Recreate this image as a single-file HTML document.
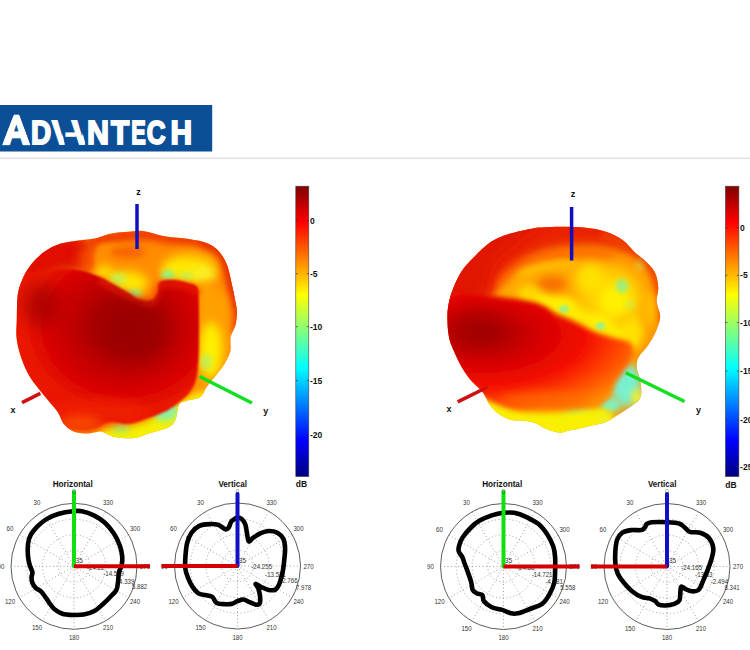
<!DOCTYPE html><html><head><meta charset="utf-8"><style>html,body{margin:0;padding:0;background:#fff;width:750px;height:650px;overflow:hidden}svg{display:block}</style></head><body>
<svg width="750" height="650" viewBox="0 0 750 650">
<rect width="750" height="650" fill="#fff"/>
<rect x="0" y="105" width="212.2" height="46.5" fill="#0b4f97"/>
<rect x="0" y="157.5" width="750" height="1.6" fill="#e4e4e4"/>
<defs><clipPath id="clipV"><polygon points="49,118 59.2,118 65.2,147 57,147"/></clipPath><clipPath id="clipA1"><polygon points="1.8,145.5 14.4,113.5 18.6,113.5 30.6,145.5"/></clipPath><clipPath id="clipA"><polygon points="69.3,118 78.6,118 86.2,147 76.8,147"/></clipPath></defs>
<g clip-path="url(#clipA1)"><text transform="translate(2.50 143.67) scale(0.3802 0.4092)" font-size="100" font-weight="bold" fill="#fff" stroke="#fff" stroke-width="5.5" stroke-linejoin="miter" font-family="'Liberation Sans', Arial, sans-serif">A</text></g>
<text transform="translate(30.99 143.89) scale(0.2799 0.3324)" font-size="100" font-weight="bold" fill="#fff" stroke="#fff" stroke-width="5.5" stroke-linejoin="miter" font-family="'Liberation Sans', Arial, sans-serif">D</text>
<g clip-path="url(#clipV)"><text transform="translate(52.03 143.89) scale(0.3051 0.3324)" font-size="100" font-weight="bold" fill="#fff" stroke="#fff" stroke-width="5.5" stroke-linejoin="miter" font-family="'Liberation Sans', Arial, sans-serif">V</text></g>
<g clip-path="url(#clipA)"><text transform="translate(71.73 143.89) scale(0.3051 0.3324)" font-size="100" font-weight="bold" fill="#fff" stroke="#fff" stroke-width="5.5" stroke-linejoin="miter" font-family="'Liberation Sans', Arial, sans-serif">V</text></g>
<text transform="translate(64.91 140.56) scale(0.3398 0.2356)" font-size="100" font-weight="bold" fill="#fff" stroke="#fff" stroke-width="5.5" stroke-linejoin="miter" font-family="'Liberation Sans', Arial, sans-serif">-</text>
<text transform="translate(86.90 143.89) scale(0.3048 0.3324)" font-size="100" font-weight="bold" fill="#fff" stroke="#fff" stroke-width="5.5" stroke-linejoin="miter" font-family="'Liberation Sans', Arial, sans-serif">N</text>
<text transform="translate(110.89 143.89) scale(0.2981 0.3324)" font-size="100" font-weight="bold" fill="#fff" stroke="#fff" stroke-width="5.5" stroke-linejoin="miter" font-family="'Liberation Sans', Arial, sans-serif">T</text>
<text transform="translate(131.14 143.89) scale(0.2175 0.3324)" font-size="100" font-weight="bold" fill="#fff" stroke="#fff" stroke-width="5.5" stroke-linejoin="miter" font-family="'Liberation Sans', Arial, sans-serif">E</text>
<text transform="translate(146.65 143.76) scale(0.2609 0.3303)" font-size="100" font-weight="bold" fill="#fff" stroke="#fff" stroke-width="5.5" stroke-linejoin="miter" font-family="'Liberation Sans', Arial, sans-serif">C</text>
<text transform="translate(170.42 143.89) scale(0.2986 0.3324)" font-size="100" font-weight="bold" fill="#fff" stroke="#fff" stroke-width="5.5" stroke-linejoin="miter" font-family="'Liberation Sans', Arial, sans-serif">H</text>
<g>
<circle cx="74.0" cy="566.3" r="63.0" fill="none" stroke="#333" stroke-width="0.8"/>
<circle cx="74.0" cy="566.3" r="15.8" fill="none" stroke="#888" stroke-width="0.8" stroke-dasharray="1 2.5"/>
<circle cx="74.0" cy="566.3" r="31.5" fill="none" stroke="#888" stroke-width="0.8" stroke-dasharray="1 2.5"/>
<circle cx="74.0" cy="566.3" r="47.2" fill="none" stroke="#888" stroke-width="0.8" stroke-dasharray="1 2.5"/>
<line x1="11.0" y1="566.3" x2="137.0" y2="566.3" stroke="#888" stroke-width="0.8" stroke-dasharray="1 2.5"/>
<line x1="19.4" y1="534.8" x2="128.6" y2="597.8" stroke="#888" stroke-width="0.8" stroke-dasharray="1 2.5"/>
<line x1="42.5" y1="511.7" x2="105.5" y2="620.9" stroke="#888" stroke-width="0.8" stroke-dasharray="1 2.5"/>
<line x1="74.0" y1="503.3" x2="74.0" y2="629.3" stroke="#888" stroke-width="0.8" stroke-dasharray="1 2.5"/>
<line x1="105.5" y1="511.7" x2="42.5" y2="620.9" stroke="#888" stroke-width="0.8" stroke-dasharray="1 2.5"/>
<line x1="128.6" y1="534.8" x2="19.4" y2="597.8" stroke="#888" stroke-width="0.8" stroke-dasharray="1 2.5"/>
<text x="37.0" y="502.3" font-size="7.6" text-anchor="middle" fill="#333" font-family="'Liberation Sans', Arial, sans-serif" dominant-baseline="central" textLength="6.8" lengthAdjust="spacingAndGlyphs">30</text>
<text x="108.0" y="502.3" font-size="7.6" text-anchor="middle" fill="#333" font-family="'Liberation Sans', Arial, sans-serif" dominant-baseline="central" textLength="10.2" lengthAdjust="spacingAndGlyphs">330</text>
<text x="10.0" y="528.8" font-size="7.6" text-anchor="middle" fill="#333" font-family="'Liberation Sans', Arial, sans-serif" dominant-baseline="central" textLength="6.8" lengthAdjust="spacingAndGlyphs">60</text>
<text x="135.0" y="528.8" font-size="7.6" text-anchor="middle" fill="#333" font-family="'Liberation Sans', Arial, sans-serif" dominant-baseline="central" textLength="10.2" lengthAdjust="spacingAndGlyphs">300</text>
<text x="1.0" y="566.3" font-size="7.6" text-anchor="middle" fill="#333" font-family="'Liberation Sans', Arial, sans-serif" dominant-baseline="central" textLength="6.8" lengthAdjust="spacingAndGlyphs">90</text>
<text x="145.0" y="566.3" font-size="7.6" text-anchor="middle" fill="#333" font-family="'Liberation Sans', Arial, sans-serif" dominant-baseline="central" textLength="10.2" lengthAdjust="spacingAndGlyphs">270</text>
<text x="10.0" y="601.3" font-size="7.6" text-anchor="middle" fill="#333" font-family="'Liberation Sans', Arial, sans-serif" dominant-baseline="central" textLength="10.2" lengthAdjust="spacingAndGlyphs">120</text>
<text x="135.0" y="601.3" font-size="7.6" text-anchor="middle" fill="#333" font-family="'Liberation Sans', Arial, sans-serif" dominant-baseline="central" textLength="10.2" lengthAdjust="spacingAndGlyphs">240</text>
<text x="37.0" y="627.8" font-size="7.6" text-anchor="middle" fill="#333" font-family="'Liberation Sans', Arial, sans-serif" dominant-baseline="central" textLength="10.2" lengthAdjust="spacingAndGlyphs">150</text>
<text x="108.0" y="627.8" font-size="7.6" text-anchor="middle" fill="#333" font-family="'Liberation Sans', Arial, sans-serif" dominant-baseline="central" textLength="10.2" lengthAdjust="spacingAndGlyphs">210</text>
<text x="74.0" y="637.3" font-size="7.6" text-anchor="middle" fill="#333" font-family="'Liberation Sans', Arial, sans-serif" dominant-baseline="central" textLength="10.2" lengthAdjust="spacingAndGlyphs">180</text>
<text x="72.7" y="484.5" font-size="8.2" font-weight="bold" text-anchor="middle" fill="#111" font-family="'Liberation Sans', Arial, sans-serif" dominant-baseline="central" textLength="40.0" lengthAdjust="spacingAndGlyphs">Horizontal</text>
<text x="73.7" y="560.4" font-size="7.2" fill="#333" font-family="'Liberation Sans', Arial, sans-serif" dominant-baseline="central" textLength="9.1" lengthAdjust="spacingAndGlyphs">-35</text>
<text x="87.0" y="567.0" font-size="7.2" fill="#333" font-family="'Liberation Sans', Arial, sans-serif" dominant-baseline="central" textLength="17.4" lengthAdjust="spacingAndGlyphs">-24.22</text>
<text x="103.2" y="573.5" font-size="7.2" fill="#333" font-family="'Liberation Sans', Arial, sans-serif" dominant-baseline="central" textLength="20.8" lengthAdjust="spacingAndGlyphs">-14.579</text>
<text x="117.0" y="581.2" font-size="7.2" fill="#333" font-family="'Liberation Sans', Arial, sans-serif" dominant-baseline="central" textLength="17.4" lengthAdjust="spacingAndGlyphs">-4.339</text>
<text x="132.0" y="586.8" font-size="7.2" fill="#333" font-family="'Liberation Sans', Arial, sans-serif" dominant-baseline="central" textLength="15.1" lengthAdjust="spacingAndGlyphs">5.882</text>
<path d="M73.0,511.2C76.8,510.8 78.4,510.5 81.9,511.2C85.5,511.9 90.5,513.7 94.3,515.6C98.1,517.5 101.7,519.8 104.9,522.7C108.1,525.7 111.2,529.5 113.7,533.3C116.2,537.1 118.5,541.9 119.9,545.7C121.3,549.5 121.9,553.1 122.2,556.3C122.5,559.5 122.2,562.5 121.7,565.1C121.2,567.8 119.6,569.6 119.0,572.2C118.4,574.9 118.5,578.0 118.1,581.0C117.7,584.0 117.7,587.2 116.4,589.9C115.1,592.6 112.4,594.6 110.2,597.0C108.0,599.4 105.8,601.6 103.1,604.0C100.4,606.4 97.5,609.3 94.3,611.1C91.1,612.9 87.2,614.0 83.7,614.6C80.2,615.2 76.5,615.1 73.0,615.0C69.5,614.9 65.5,614.8 62.4,613.8C59.3,612.8 56.5,610.9 54.5,609.3C52.5,607.7 51.4,605.8 50.1,604.0C48.8,602.2 48.0,600.8 46.5,598.7C45.0,596.6 43.0,593.4 41.2,591.6C39.4,589.8 37.4,589.6 35.9,588.1C34.4,586.6 33.1,584.6 32.4,582.8C31.7,581.0 31.5,579.3 31.5,577.5C31.5,575.7 32.7,574.3 32.4,572.2C32.1,570.1 30.4,567.8 29.7,565.1C29.0,562.5 28.3,559.8 28.0,556.3C27.7,552.8 27.6,547.4 28.0,543.9C28.4,540.4 29.0,538.0 30.6,535.1C32.2,532.2 35.1,528.9 37.7,526.2C40.4,523.5 43.0,521.2 46.5,519.1C50.0,517.0 54.5,515.1 58.9,513.8C63.3,512.5 69.2,511.6 73.0,511.2Z" fill="none" stroke="#000" stroke-width="4.6" stroke-linejoin="round"/>
<line x1="74.0" y1="566.3" x2="74.0" y2="492" stroke="#10e010" stroke-width="4" stroke-linecap="round"/><text x="74.0" y="491" font-size="7" text-anchor="middle" fill="#000" opacity="0.45" font-family="Liberation Sans, sans-serif" dominant-baseline="central">0</text>
<line x1="74.0" y1="566.3" x2="150.0" y2="566.3" stroke="#d40000" stroke-width="4"/>
</g>
<g>
<circle cx="237.5" cy="566.0" r="63.0" fill="none" stroke="#333" stroke-width="0.8"/>
<circle cx="237.5" cy="566.0" r="15.8" fill="none" stroke="#888" stroke-width="0.8" stroke-dasharray="1 2.5"/>
<circle cx="237.5" cy="566.0" r="31.5" fill="none" stroke="#888" stroke-width="0.8" stroke-dasharray="1 2.5"/>
<circle cx="237.5" cy="566.0" r="47.2" fill="none" stroke="#888" stroke-width="0.8" stroke-dasharray="1 2.5"/>
<line x1="174.5" y1="566.0" x2="300.5" y2="566.0" stroke="#888" stroke-width="0.8" stroke-dasharray="1 2.5"/>
<line x1="182.9" y1="534.5" x2="292.1" y2="597.5" stroke="#888" stroke-width="0.8" stroke-dasharray="1 2.5"/>
<line x1="206.0" y1="511.4" x2="269.0" y2="620.6" stroke="#888" stroke-width="0.8" stroke-dasharray="1 2.5"/>
<line x1="237.5" y1="503.0" x2="237.5" y2="629.0" stroke="#888" stroke-width="0.8" stroke-dasharray="1 2.5"/>
<line x1="269.0" y1="511.4" x2="206.0" y2="620.6" stroke="#888" stroke-width="0.8" stroke-dasharray="1 2.5"/>
<line x1="292.1" y1="534.5" x2="182.9" y2="597.5" stroke="#888" stroke-width="0.8" stroke-dasharray="1 2.5"/>
<text x="200.5" y="502.0" font-size="7.6" text-anchor="middle" fill="#333" font-family="'Liberation Sans', Arial, sans-serif" dominant-baseline="central" textLength="6.8" lengthAdjust="spacingAndGlyphs">30</text>
<text x="271.5" y="502.0" font-size="7.6" text-anchor="middle" fill="#333" font-family="'Liberation Sans', Arial, sans-serif" dominant-baseline="central" textLength="10.2" lengthAdjust="spacingAndGlyphs">330</text>
<text x="173.5" y="528.5" font-size="7.6" text-anchor="middle" fill="#333" font-family="'Liberation Sans', Arial, sans-serif" dominant-baseline="central" textLength="6.8" lengthAdjust="spacingAndGlyphs">60</text>
<text x="298.5" y="528.5" font-size="7.6" text-anchor="middle" fill="#333" font-family="'Liberation Sans', Arial, sans-serif" dominant-baseline="central" textLength="10.2" lengthAdjust="spacingAndGlyphs">300</text>
<text x="164.5" y="566.0" font-size="7.6" text-anchor="middle" fill="#333" font-family="'Liberation Sans', Arial, sans-serif" dominant-baseline="central" textLength="6.8" lengthAdjust="spacingAndGlyphs">90</text>
<text x="308.5" y="566.0" font-size="7.6" text-anchor="middle" fill="#333" font-family="'Liberation Sans', Arial, sans-serif" dominant-baseline="central" textLength="10.2" lengthAdjust="spacingAndGlyphs">270</text>
<text x="173.5" y="601.0" font-size="7.6" text-anchor="middle" fill="#333" font-family="'Liberation Sans', Arial, sans-serif" dominant-baseline="central" textLength="10.2" lengthAdjust="spacingAndGlyphs">120</text>
<text x="298.5" y="601.0" font-size="7.6" text-anchor="middle" fill="#333" font-family="'Liberation Sans', Arial, sans-serif" dominant-baseline="central" textLength="10.2" lengthAdjust="spacingAndGlyphs">240</text>
<text x="200.5" y="627.5" font-size="7.6" text-anchor="middle" fill="#333" font-family="'Liberation Sans', Arial, sans-serif" dominant-baseline="central" textLength="10.2" lengthAdjust="spacingAndGlyphs">150</text>
<text x="271.5" y="627.5" font-size="7.6" text-anchor="middle" fill="#333" font-family="'Liberation Sans', Arial, sans-serif" dominant-baseline="central" textLength="10.2" lengthAdjust="spacingAndGlyphs">210</text>
<text x="237.5" y="637.0" font-size="7.6" text-anchor="middle" fill="#333" font-family="'Liberation Sans', Arial, sans-serif" dominant-baseline="central" textLength="10.2" lengthAdjust="spacingAndGlyphs">180</text>
<text x="232.7" y="484.5" font-size="8.2" font-weight="bold" text-anchor="middle" fill="#111" font-family="'Liberation Sans', Arial, sans-serif" dominant-baseline="central" textLength="28.5" lengthAdjust="spacingAndGlyphs">Vertical</text>
<text x="236.8" y="560.5" font-size="7.2" fill="#333" font-family="'Liberation Sans', Arial, sans-serif" dominant-baseline="central" textLength="9.1" lengthAdjust="spacingAndGlyphs">-35</text>
<text x="251.3" y="566.5" font-size="7.2" fill="#333" font-family="'Liberation Sans', Arial, sans-serif" dominant-baseline="central" textLength="20.8" lengthAdjust="spacingAndGlyphs">-24.255</text>
<text x="265.1" y="574.3" font-size="7.2" fill="#333" font-family="'Liberation Sans', Arial, sans-serif" dominant-baseline="central" textLength="20.8" lengthAdjust="spacingAndGlyphs">-13.531</text>
<text x="280.2" y="580.4" font-size="7.2" fill="#333" font-family="'Liberation Sans', Arial, sans-serif" dominant-baseline="central" textLength="17.4" lengthAdjust="spacingAndGlyphs">-2.766</text>
<text x="296.0" y="587.0" font-size="7.2" fill="#333" font-family="'Liberation Sans', Arial, sans-serif" dominant-baseline="central" textLength="15.1" lengthAdjust="spacingAndGlyphs">7.978</text>
<path d="M234.8,518.9C235.8,518.2 236.2,517.5 237.4,517.5C238.6,517.5 240.4,517.8 241.7,518.9C243.0,520.0 244.3,521.8 245.2,524.1C246.1,526.4 246.3,529.8 246.9,532.7C247.5,535.6 247.7,540.5 248.7,541.4C249.7,542.3 251.1,539.2 253.0,537.9C254.9,536.6 257.3,534.8 259.9,533.6C262.5,532.5 265.7,531.1 268.6,531.0C271.5,530.9 274.9,531.4 277.3,532.7C279.8,534.0 282.0,536.2 283.3,538.8C284.6,541.4 285.0,544.7 285.1,548.3C285.2,551.9 284.6,556.5 284.2,560.5C283.8,564.5 283.4,568.6 282.5,572.6C281.6,576.6 280.2,581.9 279.0,584.7C277.8,587.5 277.2,588.7 275.5,589.6C273.8,590.5 270.9,590.3 268.6,589.9C266.3,589.5 263.9,588.3 261.7,587.3C259.5,586.3 256.2,583.8 255.6,583.9C255.0,584.0 257.5,586.3 258.2,588.2C258.9,590.1 259.6,592.7 259.9,595.1C260.2,597.5 260.5,601.3 259.9,602.9C259.3,604.5 258.2,604.8 256.5,604.7C254.8,604.6 251.7,603.0 249.5,602.1C247.3,601.2 245.5,599.6 243.5,599.5C241.5,599.4 239.3,600.5 237.4,601.2C235.5,601.9 234.2,603.3 232.2,603.8C230.2,604.3 227.9,604.4 225.3,604.2C222.7,604.1 218.8,604.1 216.6,602.9C214.4,601.7 214.2,598.2 212.3,596.9C210.4,595.6 207.6,595.7 205.3,595.1C203.0,594.5 200.6,594.8 198.4,593.4C196.2,592.0 194.0,589.1 192.3,586.5C190.6,583.9 189.2,580.7 188.0,577.8C186.8,574.9 185.8,572.6 185.4,569.1C185.0,565.6 185.1,561.3 185.4,557.0C185.7,552.7 186.1,547.1 187.1,543.1C188.1,539.1 189.5,535.6 191.5,532.7C193.5,529.8 196.3,527.2 199.3,525.8C202.3,524.4 206.5,524.2 209.7,524.1C212.9,524.0 215.7,524.0 218.3,524.9C220.9,525.8 223.6,528.9 225.3,529.3C227.0,529.7 227.7,528.8 228.7,527.5C229.7,526.2 230.3,522.9 231.3,521.5C232.3,520.1 233.8,519.6 234.8,518.9Z" fill="none" stroke="#000" stroke-width="4.6" stroke-linejoin="round"/>
<line x1="237.5" y1="566.0" x2="237.5" y2="494" stroke="#1010c8" stroke-width="4" stroke-linecap="round"/><text x="237.5" y="491" font-size="7" text-anchor="middle" fill="#000" opacity="0.45" font-family="Liberation Sans, sans-serif" dominant-baseline="central">0</text>
<line x1="237.5" y1="566.0" x2="161.5" y2="566.0" stroke="#d40000" stroke-width="4"/>
</g>
<g>
<circle cx="503.5" cy="566.5" r="63.0" fill="none" stroke="#333" stroke-width="0.8"/>
<circle cx="503.5" cy="566.5" r="15.8" fill="none" stroke="#888" stroke-width="0.8" stroke-dasharray="1 2.5"/>
<circle cx="503.5" cy="566.5" r="31.5" fill="none" stroke="#888" stroke-width="0.8" stroke-dasharray="1 2.5"/>
<circle cx="503.5" cy="566.5" r="47.2" fill="none" stroke="#888" stroke-width="0.8" stroke-dasharray="1 2.5"/>
<line x1="440.5" y1="566.5" x2="566.5" y2="566.5" stroke="#888" stroke-width="0.8" stroke-dasharray="1 2.5"/>
<line x1="448.9" y1="535.0" x2="558.1" y2="598.0" stroke="#888" stroke-width="0.8" stroke-dasharray="1 2.5"/>
<line x1="472.0" y1="511.9" x2="535.0" y2="621.1" stroke="#888" stroke-width="0.8" stroke-dasharray="1 2.5"/>
<line x1="503.5" y1="503.5" x2="503.5" y2="629.5" stroke="#888" stroke-width="0.8" stroke-dasharray="1 2.5"/>
<line x1="535.0" y1="511.9" x2="472.0" y2="621.1" stroke="#888" stroke-width="0.8" stroke-dasharray="1 2.5"/>
<line x1="558.1" y1="535.0" x2="448.9" y2="598.0" stroke="#888" stroke-width="0.8" stroke-dasharray="1 2.5"/>
<text x="466.5" y="502.5" font-size="7.6" text-anchor="middle" fill="#333" font-family="'Liberation Sans', Arial, sans-serif" dominant-baseline="central" textLength="6.8" lengthAdjust="spacingAndGlyphs">30</text>
<text x="537.5" y="502.5" font-size="7.6" text-anchor="middle" fill="#333" font-family="'Liberation Sans', Arial, sans-serif" dominant-baseline="central" textLength="10.2" lengthAdjust="spacingAndGlyphs">330</text>
<text x="439.5" y="529.0" font-size="7.6" text-anchor="middle" fill="#333" font-family="'Liberation Sans', Arial, sans-serif" dominant-baseline="central" textLength="6.8" lengthAdjust="spacingAndGlyphs">60</text>
<text x="564.5" y="529.0" font-size="7.6" text-anchor="middle" fill="#333" font-family="'Liberation Sans', Arial, sans-serif" dominant-baseline="central" textLength="10.2" lengthAdjust="spacingAndGlyphs">300</text>
<text x="430.5" y="566.5" font-size="7.6" text-anchor="middle" fill="#333" font-family="'Liberation Sans', Arial, sans-serif" dominant-baseline="central" textLength="6.8" lengthAdjust="spacingAndGlyphs">90</text>
<text x="574.5" y="566.5" font-size="7.6" text-anchor="middle" fill="#333" font-family="'Liberation Sans', Arial, sans-serif" dominant-baseline="central" textLength="10.2" lengthAdjust="spacingAndGlyphs">270</text>
<text x="439.5" y="601.5" font-size="7.6" text-anchor="middle" fill="#333" font-family="'Liberation Sans', Arial, sans-serif" dominant-baseline="central" textLength="10.2" lengthAdjust="spacingAndGlyphs">120</text>
<text x="564.5" y="601.5" font-size="7.6" text-anchor="middle" fill="#333" font-family="'Liberation Sans', Arial, sans-serif" dominant-baseline="central" textLength="10.2" lengthAdjust="spacingAndGlyphs">240</text>
<text x="466.5" y="628.0" font-size="7.6" text-anchor="middle" fill="#333" font-family="'Liberation Sans', Arial, sans-serif" dominant-baseline="central" textLength="10.2" lengthAdjust="spacingAndGlyphs">150</text>
<text x="537.5" y="628.0" font-size="7.6" text-anchor="middle" fill="#333" font-family="'Liberation Sans', Arial, sans-serif" dominant-baseline="central" textLength="10.2" lengthAdjust="spacingAndGlyphs">210</text>
<text x="503.5" y="637.5" font-size="7.6" text-anchor="middle" fill="#333" font-family="'Liberation Sans', Arial, sans-serif" dominant-baseline="central" textLength="10.2" lengthAdjust="spacingAndGlyphs">180</text>
<text x="502.2" y="484.5" font-size="8.2" font-weight="bold" text-anchor="middle" fill="#111" font-family="'Liberation Sans', Arial, sans-serif" dominant-baseline="central" textLength="40.0" lengthAdjust="spacingAndGlyphs">Horizontal</text>
<text x="502.8" y="560.8" font-size="7.2" fill="#333" font-family="'Liberation Sans', Arial, sans-serif" dominant-baseline="central" textLength="9.1" lengthAdjust="spacingAndGlyphs">-35</text>
<text x="517.0" y="567.0" font-size="7.2" fill="#333" font-family="'Liberation Sans', Arial, sans-serif" dominant-baseline="central" textLength="17.4" lengthAdjust="spacingAndGlyphs">-24.88</text>
<text x="531.7" y="574.3" font-size="7.2" fill="#333" font-family="'Liberation Sans', Arial, sans-serif" dominant-baseline="central" textLength="20.8" lengthAdjust="spacingAndGlyphs">-14.721</text>
<text x="545.5" y="581.3" font-size="7.2" fill="#333" font-family="'Liberation Sans', Arial, sans-serif" dominant-baseline="central" textLength="17.4" lengthAdjust="spacingAndGlyphs">-4.881</text>
<text x="560.3" y="587.3" font-size="7.2" fill="#333" font-family="'Liberation Sans', Arial, sans-serif" dominant-baseline="central" textLength="15.1" lengthAdjust="spacingAndGlyphs">5.558</text>
<path d="M503.1,512.8C506.9,512.4 510.4,512.1 514.3,512.8C518.2,513.5 522.5,515.2 526.5,517.1C530.5,519.0 535.1,521.2 538.6,524.1C542.1,527.0 544.8,530.8 547.3,534.5C549.8,538.2 552.0,542.9 553.3,546.6C554.6,550.4 554.8,553.0 555.1,557.0C555.4,561.0 555.2,566.6 555.1,570.9C555.0,575.2 555.2,579.0 554.2,583.0C553.2,587.0 551.0,591.6 549.0,595.1C547.0,598.6 545.3,601.5 542.1,603.8C538.9,606.1 534.0,607.4 529.9,609.0C525.8,610.6 521.0,612.6 517.8,613.3C514.6,614.0 513.5,613.9 510.9,613.3C508.3,612.7 505.4,610.9 502.2,609.9C499.0,608.9 494.8,608.8 491.8,607.3C488.8,605.8 485.6,603.2 484.0,601.2C482.4,599.2 483.4,596.4 482.3,595.1C481.2,593.8 478.7,594.3 477.1,593.4C475.5,592.5 473.7,591.9 472.7,589.9C471.7,587.9 472.0,584.8 471.0,581.3C470.0,577.8 467.8,572.3 466.7,569.1C465.6,565.9 464.8,564.2 464.1,562.2C463.4,560.2 463.2,558.7 462.3,557.0C461.4,555.3 459.5,553.5 458.9,551.8C458.3,550.1 458.3,548.9 458.9,546.6C459.5,544.3 460.3,541.1 462.3,537.9C464.3,534.7 468.1,530.4 471.0,527.5C473.9,524.6 476.2,522.6 479.7,520.6C483.2,518.6 487.9,516.7 491.8,515.4C495.7,514.1 499.4,513.2 503.1,512.8Z" fill="none" stroke="#000" stroke-width="4.6" stroke-linejoin="round"/>
<line x1="503.5" y1="566.5" x2="503.5" y2="492" stroke="#10e010" stroke-width="4" stroke-linecap="round"/><text x="503.5" y="491" font-size="7" text-anchor="middle" fill="#000" opacity="0.45" font-family="Liberation Sans, sans-serif" dominant-baseline="central">0</text>
<line x1="503.5" y1="566.5" x2="579.5" y2="566.5" stroke="#d40000" stroke-width="4"/>
</g>
<g>
<circle cx="667.0" cy="566.5" r="63.0" fill="none" stroke="#333" stroke-width="0.8"/>
<circle cx="667.0" cy="566.5" r="15.8" fill="none" stroke="#888" stroke-width="0.8" stroke-dasharray="1 2.5"/>
<circle cx="667.0" cy="566.5" r="31.5" fill="none" stroke="#888" stroke-width="0.8" stroke-dasharray="1 2.5"/>
<circle cx="667.0" cy="566.5" r="47.2" fill="none" stroke="#888" stroke-width="0.8" stroke-dasharray="1 2.5"/>
<line x1="604.0" y1="566.5" x2="730.0" y2="566.5" stroke="#888" stroke-width="0.8" stroke-dasharray="1 2.5"/>
<line x1="612.4" y1="535.0" x2="721.6" y2="598.0" stroke="#888" stroke-width="0.8" stroke-dasharray="1 2.5"/>
<line x1="635.5" y1="511.9" x2="698.5" y2="621.1" stroke="#888" stroke-width="0.8" stroke-dasharray="1 2.5"/>
<line x1="667.0" y1="503.5" x2="667.0" y2="629.5" stroke="#888" stroke-width="0.8" stroke-dasharray="1 2.5"/>
<line x1="698.5" y1="511.9" x2="635.5" y2="621.1" stroke="#888" stroke-width="0.8" stroke-dasharray="1 2.5"/>
<line x1="721.6" y1="535.0" x2="612.4" y2="598.0" stroke="#888" stroke-width="0.8" stroke-dasharray="1 2.5"/>
<text x="630.0" y="502.5" font-size="7.6" text-anchor="middle" fill="#333" font-family="'Liberation Sans', Arial, sans-serif" dominant-baseline="central" textLength="6.8" lengthAdjust="spacingAndGlyphs">30</text>
<text x="701.0" y="502.5" font-size="7.6" text-anchor="middle" fill="#333" font-family="'Liberation Sans', Arial, sans-serif" dominant-baseline="central" textLength="10.2" lengthAdjust="spacingAndGlyphs">330</text>
<text x="603.0" y="529.0" font-size="7.6" text-anchor="middle" fill="#333" font-family="'Liberation Sans', Arial, sans-serif" dominant-baseline="central" textLength="6.8" lengthAdjust="spacingAndGlyphs">60</text>
<text x="728.0" y="529.0" font-size="7.6" text-anchor="middle" fill="#333" font-family="'Liberation Sans', Arial, sans-serif" dominant-baseline="central" textLength="10.2" lengthAdjust="spacingAndGlyphs">300</text>
<text x="594.0" y="566.5" font-size="7.6" text-anchor="middle" fill="#333" font-family="'Liberation Sans', Arial, sans-serif" dominant-baseline="central" textLength="6.8" lengthAdjust="spacingAndGlyphs">90</text>
<text x="738.0" y="566.5" font-size="7.6" text-anchor="middle" fill="#333" font-family="'Liberation Sans', Arial, sans-serif" dominant-baseline="central" textLength="10.2" lengthAdjust="spacingAndGlyphs">270</text>
<text x="603.0" y="601.5" font-size="7.6" text-anchor="middle" fill="#333" font-family="'Liberation Sans', Arial, sans-serif" dominant-baseline="central" textLength="10.2" lengthAdjust="spacingAndGlyphs">120</text>
<text x="728.0" y="601.5" font-size="7.6" text-anchor="middle" fill="#333" font-family="'Liberation Sans', Arial, sans-serif" dominant-baseline="central" textLength="10.2" lengthAdjust="spacingAndGlyphs">240</text>
<text x="630.0" y="628.0" font-size="7.6" text-anchor="middle" fill="#333" font-family="'Liberation Sans', Arial, sans-serif" dominant-baseline="central" textLength="10.2" lengthAdjust="spacingAndGlyphs">150</text>
<text x="701.0" y="628.0" font-size="7.6" text-anchor="middle" fill="#333" font-family="'Liberation Sans', Arial, sans-serif" dominant-baseline="central" textLength="10.2" lengthAdjust="spacingAndGlyphs">210</text>
<text x="667.0" y="637.5" font-size="7.6" text-anchor="middle" fill="#333" font-family="'Liberation Sans', Arial, sans-serif" dominant-baseline="central" textLength="10.2" lengthAdjust="spacingAndGlyphs">180</text>
<text x="662.2" y="484.5" font-size="8.2" font-weight="bold" text-anchor="middle" fill="#111" font-family="'Liberation Sans', Arial, sans-serif" dominant-baseline="central" textLength="28.5" lengthAdjust="spacingAndGlyphs">Vertical</text>
<text x="666.8" y="560.8" font-size="7.2" fill="#333" font-family="'Liberation Sans', Arial, sans-serif" dominant-baseline="central" textLength="9.1" lengthAdjust="spacingAndGlyphs">-35</text>
<text x="681.3" y="567.0" font-size="7.2" fill="#333" font-family="'Liberation Sans', Arial, sans-serif" dominant-baseline="central" textLength="20.8" lengthAdjust="spacingAndGlyphs">-24.165</text>
<text x="695.1" y="574.3" font-size="7.2" fill="#333" font-family="'Liberation Sans', Arial, sans-serif" dominant-baseline="central" textLength="17.4" lengthAdjust="spacingAndGlyphs">-13.83</text>
<text x="710.7" y="581.3" font-size="7.2" fill="#333" font-family="'Liberation Sans', Arial, sans-serif" dominant-baseline="central" textLength="17.4" lengthAdjust="spacingAndGlyphs">-2.494</text>
<text x="724.6" y="587.5" font-size="7.2" fill="#333" font-family="'Liberation Sans', Arial, sans-serif" dominant-baseline="central" textLength="15.1" lengthAdjust="spacingAndGlyphs">8.341</text>
<path d="M646.6,524.1C647.8,523.2 648.3,522.6 651.8,522.3C655.3,522.0 662.8,522.1 667.4,522.3C672.0,522.5 676.6,522.8 679.5,523.7C682.4,524.6 683.0,526.1 684.7,527.5C686.4,528.9 687.3,531.0 689.9,531.9C692.5,532.8 697.1,531.7 700.3,532.7C703.5,533.7 706.8,535.3 709.0,537.9C711.2,540.5 712.9,544.8 713.3,548.3C713.7,551.8 712.6,554.9 711.6,558.7C710.6,562.5 708.8,567.1 707.3,570.9C705.8,574.7 704.3,578.1 702.9,581.3C701.5,584.5 700.5,588.2 698.6,589.9C696.7,591.6 693.9,591.4 691.7,591.3C689.5,591.2 687.3,589.9 685.6,589.1C683.9,588.3 682.2,586.1 681.3,586.5C680.4,586.9 680.7,589.4 680.4,591.7C680.1,594.0 680.5,598.3 679.5,600.3C678.5,602.3 676.6,602.9 674.3,603.8C672.0,604.7 668.3,605.4 665.7,605.5C663.1,605.6 660.4,605.4 658.7,604.7C657.0,604.0 656.7,602.2 655.3,601.2C653.9,600.2 652.4,599.3 650.1,598.6C647.8,597.9 644.3,598.0 641.4,596.9C638.5,595.8 635.6,594.0 632.7,591.7C629.8,589.4 626.6,585.9 624.1,583.0C621.6,580.1 619.5,577.5 618.0,574.3C616.5,571.1 615.8,567.9 615.4,563.9C615.0,559.9 615.1,554.1 615.4,550.1C615.7,546.1 616.0,542.6 617.1,539.7C618.2,536.8 620.0,534.3 622.3,532.7C624.6,531.1 627.8,530.5 631.0,530.1C634.2,529.7 639.1,530.5 641.4,530.1C643.7,529.7 644.0,528.5 644.9,527.5C645.8,526.5 645.5,525.0 646.6,524.1Z" fill="none" stroke="#000" stroke-width="4.6" stroke-linejoin="round"/>
<line x1="667.0" y1="566.5" x2="667.0" y2="494" stroke="#1010c8" stroke-width="4" stroke-linecap="round"/><text x="667.0" y="491" font-size="7" text-anchor="middle" fill="#000" opacity="0.45" font-family="Liberation Sans, sans-serif" dominant-baseline="central">0</text>
<line x1="667.0" y1="566.5" x2="591.0" y2="566.5" stroke="#d40000" stroke-width="4"/>
</g>
<defs><clipPath id="clipL"><path d="M128.5,231.8C133.7,231.4 136.8,230.2 143.0,231.0C149.2,231.8 158.3,235.2 166.0,236.5C173.7,237.8 182.1,237.8 189.0,239.0C195.9,240.2 202.7,241.3 207.7,243.4C212.7,245.5 215.8,247.9 219.0,251.5C222.2,255.1 224.8,259.4 227.0,265.0C229.2,270.6 230.6,278.8 232.0,285.0C233.4,291.2 234.7,297.3 235.5,302.0C236.3,306.7 237.1,309.0 237.0,313.0C236.9,317.0 236.3,322.0 235.2,326.0C234.1,330.0 231.4,333.0 230.6,337.0C229.8,341.0 231.2,346.3 230.6,350.0C230.0,353.7 228.5,356.3 227.0,359.4C225.5,362.5 223.6,365.5 221.4,368.6C219.2,371.7 216.5,374.7 214.0,377.8C211.5,380.9 208.9,383.8 206.6,387.0C204.3,390.2 203.7,394.7 200.4,397.0C197.1,399.3 190.5,399.5 187.0,400.8C183.5,402.1 181.1,401.4 179.2,404.6C177.3,407.8 177.3,416.1 175.4,420.0C173.5,423.9 172.2,425.4 167.7,427.7C163.2,429.9 153.9,431.8 148.5,433.5C143.1,435.2 140.4,437.4 135.0,438.0C129.6,438.6 120.6,438.1 115.8,437.3C111.0,436.6 108.6,434.5 106.0,433.5C103.4,432.5 103.6,431.5 100.4,431.5C97.2,431.5 91.5,433.5 87.0,433.5C82.5,433.5 77.4,433.1 73.5,431.5C69.6,429.9 66.4,427.0 63.8,423.8C61.2,420.6 60.5,416.1 58.0,412.3C55.5,408.5 51.7,404.7 48.5,400.8C45.3,396.9 42.0,393.2 38.8,389.0C35.6,384.8 32.1,380.9 29.2,375.8C26.3,370.7 23.6,364.6 21.5,358.5C19.4,352.4 17.5,345.4 16.7,339.0C15.9,332.6 16.6,327.2 16.8,320.0C17.0,312.8 16.8,302.5 17.6,296.0C18.4,289.5 19.7,286.0 21.8,280.9C23.9,275.8 26.6,270.4 30.3,265.6C34.0,260.8 38.8,255.8 43.9,252.1C49.0,248.4 54.6,245.6 60.8,243.6C67.0,241.6 75.5,241.0 81.1,240.2C86.7,239.3 89.5,239.6 94.6,238.5C99.7,237.4 105.9,234.6 111.6,233.5C117.2,232.4 123.3,232.2 128.5,231.8Z"/></clipPath>
<filter id="blL_1p2" x="-50%" y="-50%" width="200%" height="200%"><feGaussianBlur stdDeviation="1.2"/></filter>
<filter id="blL_2p5" x="-50%" y="-50%" width="200%" height="200%"><feGaussianBlur stdDeviation="2.5"/></filter>
<filter id="blL_3" x="-50%" y="-50%" width="200%" height="200%"><feGaussianBlur stdDeviation="3"/></filter>
<filter id="blL_3p5" x="-50%" y="-50%" width="200%" height="200%"><feGaussianBlur stdDeviation="3.5"/></filter>
<filter id="blL_4" x="-50%" y="-50%" width="200%" height="200%"><feGaussianBlur stdDeviation="4"/></filter>
<filter id="blL_5" x="-50%" y="-50%" width="200%" height="200%"><feGaussianBlur stdDeviation="5"/></filter>
<filter id="blL_6" x="-50%" y="-50%" width="200%" height="200%"><feGaussianBlur stdDeviation="6"/></filter>
<filter id="blL_7" x="-50%" y="-50%" width="200%" height="200%"><feGaussianBlur stdDeviation="7"/></filter>
<filter id="blL_8" x="-50%" y="-50%" width="200%" height="200%"><feGaussianBlur stdDeviation="8"/></filter>
<filter id="blL_9" x="-50%" y="-50%" width="200%" height="200%"><feGaussianBlur stdDeviation="9"/></filter>
</defs>
<g clip-path="url(#clipL)">
<rect x="0" y="0" width="750" height="650" fill="#ff8c00"/>
<path d="M0.0,225.0C8.3,216.2 45.8,230.2 60.0,232.0C74.2,233.8 79.7,233.0 85.0,236.0C90.3,239.0 91.5,244.7 92.0,250.0C92.5,255.3 93.3,264.0 88.0,268.0C82.7,272.0 73.0,271.2 60.0,274.0C47.0,276.8 20.0,293.2 10.0,285.0C0.0,276.8 -8.3,233.8 0.0,225.0Z" fill="#e01000" filter="url(#blL_7)"/>
<ellipse cx="92.0" cy="258.0" rx="14.0" ry="12.0" fill="#f85000" filter="url(#blL_6)" opacity="0.90"/>
<path d="M95.0,240.0C99.2,239.3 111.7,237.0 120.0,236.0C128.3,235.0 136.7,233.7 145.0,234.0C153.3,234.3 160.8,236.8 170.0,238.0C179.2,239.2 191.3,239.0 200.0,241.0C208.7,243.0 216.5,243.8 222.0,250.0C227.5,256.2 230.3,268.0 233.0,278.0C235.7,288.0 237.5,301.3 238.0,310.0C238.5,318.7 236.3,326.7 236.0,330.0" fill="none" stroke="#ec2c00" stroke-width="10.0" stroke-linecap="round" filter="url(#blL_4)"/>
<path d="M205.0,243.0C207.8,244.8 217.7,248.2 222.0,254.0C226.3,259.8 228.7,269.5 231.0,278.0C233.3,286.5 235.2,300.5 236.0,305.0" fill="none" stroke="#e83000" stroke-width="10.0" stroke-linecap="round" filter="url(#blL_3)" opacity="0.90"/>
<path d="M100.0,245.0C104.0,242.8 112.5,244.2 118.0,244.5C123.5,244.8 128.7,245.7 133.0,246.7C137.3,247.7 140.6,248.7 144.0,250.7C147.4,252.7 150.9,255.8 153.3,258.7C155.8,261.6 157.4,265.1 158.7,268.0C160.0,270.9 161.1,273.3 161.3,276.0C161.5,278.7 160.9,280.4 160.0,284.0C159.1,287.6 159.3,294.3 156.0,297.3C152.7,300.3 145.3,302.7 140.0,302.0C134.7,301.3 129.0,296.0 124.0,293.0C119.0,290.0 114.3,287.5 110.0,284.0C105.7,280.5 100.7,276.3 98.0,272.0C95.3,267.7 93.7,262.5 94.0,258.0C94.3,253.5 96.0,247.2 100.0,245.0Z" fill="#ff8e00" filter="url(#blL_2p5)"/>
<ellipse cx="128.0" cy="252.0" rx="18.0" ry="6.0" fill="#f86000" filter="url(#blL_3)" opacity="0.90"/>
<ellipse cx="126.0" cy="283.0" rx="22.0" ry="12.0" fill="#ffe400" filter="url(#blL_5)"/>
<ellipse cx="104.0" cy="273.0" rx="10.0" ry="8.0" fill="#ffd800" filter="url(#blL_4)"/>
<ellipse cx="118.0" cy="279.0" rx="8.0" ry="6.0" fill="#c0f058" filter="url(#blL_3)" opacity="0.90"/>
<ellipse cx="134.0" cy="294.0" rx="8.0" ry="5.0" fill="#a8f070" filter="url(#blL_2p5)"/>
<ellipse cx="190.0" cy="268.0" rx="26.0" ry="14.0" fill="#ffd000" filter="url(#blL_6)"/>
<ellipse cx="182.0" cy="270.0" rx="20.0" ry="10.0" fill="#ffe800" filter="url(#blL_4)"/>
<ellipse cx="203.0" cy="274.0" rx="12.0" ry="9.0" fill="#f8f020" filter="url(#blL_4)"/>
<ellipse cx="168.0" cy="275.0" rx="7.0" ry="5.0" fill="#98f080" filter="url(#blL_2p5)"/>
<ellipse cx="186.0" cy="276.0" rx="7.0" ry="4.0" fill="#c0f060" filter="url(#blL_2p5)" opacity="0.80"/>
<path d="M199.0,290.0C201.5,272.7 210.2,286.3 215.0,288.0C219.8,289.7 225.5,293.0 228.0,300.0C230.5,307.0 230.3,320.0 230.0,330.0C229.7,340.0 229.0,350.8 226.0,360.0C223.0,369.2 216.3,379.7 212.0,385.0C207.7,390.3 202.2,407.8 200.0,392.0C197.8,376.2 196.5,307.3 199.0,290.0Z" fill="#ffa000" filter="url(#blL_4)"/>
<ellipse cx="211.0" cy="350.0" rx="11.0" ry="28.0" fill="#fff000" filter="url(#blL_5)"/>
<ellipse cx="206.0" cy="362.0" rx="5.0" ry="8.0" fill="#b8f060" filter="url(#blL_3)"/>
<path d="M95.0,440.0C92.5,436.7 99.2,430.7 105.0,428.0C110.8,425.3 120.8,426.3 130.0,424.0C139.2,421.7 151.7,417.7 160.0,414.0C168.3,410.3 173.3,405.7 180.0,402.0C186.7,398.3 194.2,392.3 200.0,392.0C205.8,391.7 215.0,391.2 215.0,400.0C215.0,408.8 215.8,437.0 200.0,445.0C184.2,453.0 137.5,448.8 120.0,448.0C102.5,447.2 97.5,443.3 95.0,440.0Z" fill="#f4f000" filter="url(#blL_3)"/>
<ellipse cx="165.0" cy="411.0" rx="13.0" ry="10.0" fill="#88f0a8" filter="url(#blL_3p5)"/>
<ellipse cx="121.0" cy="428.0" rx="9.0" ry="5.0" fill="#b0f060" filter="url(#blL_3)"/>
<defs><radialGradient id="gLf" cx="125" cy="326" r="102" gradientUnits="userSpaceOnUse" gradientTransform="translate(125 326) scale(1 0.85) translate(-125 -326)"><stop offset="0" stop-color="#9c0000"/><stop offset="0.3" stop-color="#a80000"/><stop offset="0.55" stop-color="#c40000"/><stop offset="0.8" stop-color="#dc0400"/><stop offset="1" stop-color="#ea1800"/></radialGradient></defs>
<path d="M5.0,280.0C10.1,258.7 26.1,274.2 35.4,272.4C44.7,270.6 53.2,269.3 60.8,269.0C68.4,268.7 74.6,269.2 81.1,270.5C87.6,271.8 94.7,274.8 100.0,277.0C105.3,279.2 108.5,281.5 113.0,284.0C117.5,286.5 122.5,289.4 127.0,292.0C131.5,294.6 135.8,298.2 140.0,299.5C144.2,300.8 149.1,301.2 152.0,300.0C154.9,298.8 156.2,295.0 157.5,292.0C158.8,289.0 157.4,284.0 160.0,282.0C162.6,280.0 168.5,279.9 173.0,280.0C177.5,280.1 183.0,281.5 187.0,282.7C191.0,283.9 195.0,284.1 197.0,287.0C199.0,289.9 198.5,291.3 198.8,300.0C199.1,308.7 199.1,329.2 199.0,339.0C198.9,348.8 198.9,352.1 198.5,358.5C198.1,364.9 197.8,372.3 196.5,377.7C195.2,383.1 193.4,387.1 190.8,391.0C188.2,394.9 184.8,397.6 181.0,400.8C177.2,404.0 173.1,407.5 167.7,410.4C162.3,413.3 154.9,415.8 148.5,418.0C142.1,420.2 135.4,423.1 129.0,423.8C122.6,424.5 115.7,421.3 110.0,422.0C104.3,422.7 100.0,426.7 95.0,428.0C90.0,429.3 85.8,430.5 80.0,430.0C74.2,429.5 66.7,428.3 60.0,425.0C53.3,421.7 49.2,414.2 40.0,410.0C30.8,405.8 10.8,421.7 5.0,400.0C-0.8,378.3 -0.1,301.3 5.0,280.0Z" fill="url(#gLf)" filter="url(#blL_1p2)"/>
<path d="M100.0,280.0C104.5,282.5 118.3,291.2 127.0,295.0C135.7,298.8 146.5,304.7 152.0,303.0C157.5,301.3 154.2,287.8 160.0,285.0C165.8,282.2 180.8,284.8 187.0,286.0C193.2,287.2 195.3,291.0 197.0,292.0" fill="none" stroke="#f02800" stroke-width="5.0" stroke-linecap="round" filter="url(#blL_3)" opacity="0.80"/>
<ellipse cx="42.0" cy="305.0" rx="18.0" ry="22.0" fill="#a00000" filter="url(#blL_8)" opacity="0.70"/>
<ellipse cx="138.0" cy="333.0" rx="30.0" ry="28.0" fill="#990000" filter="url(#blL_9)" opacity="0.70"/>
<ellipse cx="100.0" cy="412.0" rx="50.0" ry="12.0" fill="#f02000" filter="url(#blL_6)" opacity="0.80"/>
<ellipse cx="80.0" cy="424.0" rx="22.0" ry="9.0" fill="#f84800" filter="url(#blL_4)" opacity="0.90"/>
</g>
<defs><clipPath id="clipR"><path d="M545.0,227.3C549.5,227.0 553.5,226.8 560.0,226.8C566.5,226.9 576.2,226.8 583.9,227.6C591.5,228.4 599.4,229.7 605.9,231.8C612.4,233.9 618.0,236.9 622.8,240.3C627.6,243.7 630.9,248.8 634.6,252.2C638.3,255.6 641.4,257.2 644.8,260.6C648.2,264.0 652.8,268.0 655.0,272.5C657.2,277.0 658.0,282.9 658.3,287.7C658.6,292.5 656.3,296.7 656.6,301.2C656.9,305.7 659.6,311.2 660.0,314.8C660.4,318.4 659.9,319.7 659.0,323.0C658.1,326.3 656.5,330.8 654.6,334.6C652.7,338.4 650.4,342.1 647.7,346.0C645.0,349.9 640.2,353.9 638.4,357.7C636.6,361.5 636.6,365.1 637.0,369.0C637.4,372.9 639.9,376.3 640.5,381.0C641.1,385.7 642.0,393.0 640.7,397.0C639.5,401.0 636.8,402.0 633.0,405.0C629.2,408.0 622.2,412.2 617.7,415.0C613.2,417.8 610.6,420.2 606.0,422.0C601.4,423.8 594.7,424.8 590.0,426.0C585.3,427.2 581.4,428.2 577.7,429.0C574.0,429.8 571.1,430.1 568.0,430.7C564.9,431.3 563.0,433.0 559.2,432.6C555.4,432.2 548.9,429.9 545.0,428.4C541.1,426.9 539.7,424.7 536.0,423.4C532.3,422.1 527.3,421.2 523.0,420.6C518.7,420.0 514.1,420.8 510.1,419.7C506.1,418.6 502.4,416.6 499.0,414.1C495.6,411.7 492.6,408.7 489.8,405.0C487.1,401.3 485.6,396.0 482.5,392.0C479.4,388.0 474.8,385.0 471.4,381.0C468.0,377.0 465.0,372.6 462.2,368.0C459.4,363.4 457.0,358.1 454.8,353.2C452.6,348.3 450.4,344.0 449.2,338.5C448.0,333.0 447.5,325.6 447.4,320.0C447.3,314.4 447.5,310.0 448.5,304.6C449.5,299.2 451.2,293.3 453.5,287.7C455.8,282.1 458.6,275.9 462.0,270.8C465.4,265.7 469.1,262.0 473.9,257.2C478.7,252.4 485.2,245.8 490.8,242.0C496.4,238.2 500.7,236.7 507.7,234.4C514.7,232.2 526.8,229.7 533.0,228.5C539.2,227.3 540.5,227.6 545.0,227.3Z"/></clipPath>
<filter id="blR_1p8" x="-50%" y="-50%" width="200%" height="200%"><feGaussianBlur stdDeviation="1.8"/></filter>
<filter id="blR_2p5" x="-50%" y="-50%" width="200%" height="200%"><feGaussianBlur stdDeviation="2.5"/></filter>
<filter id="blR_3" x="-50%" y="-50%" width="200%" height="200%"><feGaussianBlur stdDeviation="3"/></filter>
<filter id="blR_4" x="-50%" y="-50%" width="200%" height="200%"><feGaussianBlur stdDeviation="4"/></filter>
<filter id="blR_5" x="-50%" y="-50%" width="200%" height="200%"><feGaussianBlur stdDeviation="5"/></filter>
<filter id="blR_6" x="-50%" y="-50%" width="200%" height="200%"><feGaussianBlur stdDeviation="6"/></filter>
<filter id="blR_8" x="-50%" y="-50%" width="200%" height="200%"><feGaussianBlur stdDeviation="8"/></filter>
</defs>
<g clip-path="url(#clipR)">
<rect x="0" y="0" width="750" height="650" fill="#ff9800"/>
<path d="M430.0,360.0C426.7,345.5 390.0,239.2 430.0,215.0C470.0,190.8 629.7,207.2 670.0,215.0C710.3,222.8 675.3,254.8 672.0,262.0C668.7,269.2 657.8,260.0 650.0,258.0C642.2,256.0 633.3,252.0 625.0,250.0C616.7,248.0 608.3,246.7 600.0,246.0C591.7,245.3 583.3,245.3 575.0,246.0C566.7,246.7 558.3,247.7 550.0,250.0C541.7,252.3 532.5,255.3 525.0,260.0C517.5,264.7 510.8,271.7 505.0,278.0C499.2,284.3 499.2,294.0 490.0,298.0C480.8,302.0 460.0,291.7 450.0,302.0C440.0,312.3 433.3,374.5 430.0,360.0Z" fill="#ea2400" filter="url(#blR_6)"/>
<path d="M500.0,282.0C503.3,279.3 511.7,270.3 520.0,266.0C528.3,261.7 540.0,258.0 550.0,256.0C560.0,254.0 570.0,254.0 580.0,254.0C590.0,254.0 605.0,255.7 610.0,256.0" fill="none" stroke="#ff6000" stroke-width="8.0" stroke-linecap="round" filter="url(#blR_4)" opacity="0.80"/>
<ellipse cx="515.0" cy="285.0" rx="18.0" ry="10.0" fill="#f85000" filter="url(#blR_5)" opacity="0.80"/>
<path d="M430.0,360.0C426.7,345.5 411.7,239.2 430.0,215.0C448.3,190.8 525.0,210.8 540.0,215.0C555.0,219.2 527.5,232.2 520.0,240.0C512.5,247.8 501.7,252.0 495.0,262.0C488.3,272.0 487.5,293.3 480.0,300.0C472.5,306.7 458.3,292.0 450.0,302.0C441.7,312.0 433.3,374.5 430.0,360.0Z" fill="#e01400" filter="url(#blR_6)"/>
<path d="M605.0,236.0C608.8,237.7 621.3,242.0 628.0,246.0C634.7,250.0 640.3,254.7 645.0,260.0C649.7,265.3 653.5,271.3 656.0,278.0C658.5,284.7 659.0,293.0 660.0,300.0C661.0,307.0 661.7,316.7 662.0,320.0" fill="none" stroke="#f04000" stroke-width="8.0" stroke-linecap="round" filter="url(#blR_3)"/>
<path d="M498.0,300.0C494.3,296.7 502.7,285.3 508.0,280.0C513.3,274.7 519.7,271.0 530.0,268.0C540.3,265.0 557.5,262.7 570.0,262.0C582.5,261.3 594.2,260.2 605.0,264.0C615.8,267.8 628.3,274.0 635.0,285.0C641.7,296.0 645.8,320.0 645.0,330.0C644.2,340.0 637.5,345.0 630.0,345.0C622.5,345.0 611.7,335.5 600.0,330.0C588.3,324.5 571.7,317.0 560.0,312.0C548.3,307.0 540.3,302.0 530.0,300.0C519.7,298.0 501.7,303.3 498.0,300.0Z" fill="#ffac00" filter="url(#blR_4)"/>
<path d="M528.0,296.0C532.5,297.3 546.3,300.7 555.0,304.0C563.7,307.3 571.7,312.3 580.0,316.0C588.3,319.7 597.0,322.3 605.0,326.0C613.0,329.7 624.2,336.0 628.0,338.0" fill="none" stroke="#fff000" stroke-width="16.0" stroke-linecap="round" filter="url(#blR_5)"/>
<ellipse cx="552.0" cy="284.0" rx="15.0" ry="8.0" fill="#f86800" filter="url(#blR_4)" opacity="0.90"/>
<path d="M520.0,274.0C523.3,272.8 533.3,268.7 540.0,267.0C546.7,265.3 554.2,264.7 560.0,264.0C565.8,263.3 572.5,263.2 575.0,263.0" fill="none" stroke="#ffd000" stroke-width="5.0" stroke-linecap="round" filter="url(#blR_3)" opacity="0.80"/>
<ellipse cx="530.0" cy="294.0" rx="10.0" ry="6.0" fill="#ffd000" filter="url(#blR_4)" opacity="0.90"/>
<ellipse cx="612.0" cy="295.0" rx="32.0" ry="28.0" fill="#ffe000" filter="url(#blR_8)" opacity="0.75"/>
<ellipse cx="590.0" cy="278.0" rx="14.0" ry="14.0" fill="#ffe000" filter="url(#blR_5)"/>
<ellipse cx="615.0" cy="300.0" rx="16.0" ry="16.0" fill="#fff000" filter="url(#blR_5)"/>
<ellipse cx="565.0" cy="306.0" rx="11.0" ry="7.0" fill="#fff000" filter="url(#blR_4)"/>
<ellipse cx="600.0" cy="322.0" rx="10.0" ry="7.0" fill="#fff000" filter="url(#blR_4)"/>
<ellipse cx="632.0" cy="332.0" rx="11.0" ry="16.0" fill="#ffe000" filter="url(#blR_5)"/>
<ellipse cx="650.0" cy="310.0" rx="6.0" ry="18.0" fill="#ffc000" filter="url(#blR_4)"/>
<ellipse cx="564.0" cy="309.0" rx="5.0" ry="4.0" fill="#a0f080" filter="url(#blR_1p8)"/>
<ellipse cx="600.5" cy="326.0" rx="5.0" ry="4.0" fill="#a0f080" filter="url(#blR_1p8)"/>
<ellipse cx="622.0" cy="286.0" rx="6.0" ry="7.0" fill="#98f080" filter="url(#blR_2p5)"/>
<ellipse cx="630.0" cy="305.0" rx="4.0" ry="5.0" fill="#c0f060" filter="url(#blR_3)" opacity="0.70"/>
<ellipse cx="640.0" cy="265.0" rx="4.0" ry="6.0" fill="#c8f060" filter="url(#blR_3)" opacity="0.50"/>
<ellipse cx="626.0" cy="385.0" rx="15.0" ry="22.0" fill="#78f0d0" filter="url(#blR_4)"/>
<ellipse cx="610.0" cy="405.0" rx="11.0" ry="8.0" fill="#80f0c0" filter="url(#blR_3)"/>
<ellipse cx="637.0" cy="397.0" rx="6.0" ry="8.0" fill="#e8f040" filter="url(#blR_3)"/>
<ellipse cx="580.0" cy="417.0" rx="15.0" ry="8.0" fill="#78f0c8" filter="url(#blR_4)"/>
<path d="M470.0,395.0C475.0,391.8 503.3,408.3 520.0,411.0C536.7,413.7 556.7,411.5 570.0,411.0C583.3,410.5 593.0,406.5 600.0,408.0C607.0,409.5 617.0,414.7 612.0,420.0C607.0,425.3 590.3,438.3 570.0,440.0C549.7,441.7 506.7,437.5 490.0,430.0C473.3,422.5 465.0,398.2 470.0,395.0Z" fill="#f8f000" filter="url(#blR_3)"/>
<ellipse cx="604.0" cy="420.0" rx="8.0" ry="6.0" fill="#f0f020" filter="url(#blR_3)"/>
<defs><radialGradient id="gRf" cx="482" cy="334" r="175" gradientUnits="userSpaceOnUse" gradientTransform="translate(482 334) scale(1 0.5) translate(-482 -334)"><stop offset="0" stop-color="#a00000"/><stop offset="0.15" stop-color="#b80000"/><stop offset="0.35" stop-color="#d80000"/><stop offset="0.6" stop-color="#f41000"/><stop offset="0.78" stop-color="#ff4000"/><stop offset="0.92" stop-color="#ff7000"/><stop offset="1" stop-color="#ff8c00"/></radialGradient></defs>
<path d="M440.0,296.0C445.0,283.3 460.0,293.8 470.0,294.0C480.0,294.2 488.8,295.5 500.0,297.0C511.2,298.5 527.7,300.2 537.0,303.0C546.3,305.8 549.7,310.8 556.0,314.0C562.3,317.2 568.5,319.0 574.7,322.0C580.9,325.0 587.1,329.3 593.3,332.0C599.5,334.7 605.8,336.2 612.0,338.0C618.2,339.8 627.4,339.8 630.7,343.0C634.0,346.2 633.1,352.2 632.0,357.0C630.9,361.8 626.7,367.1 623.8,371.7C620.9,376.3 617.1,380.3 614.6,384.6C612.1,388.9 612.1,393.8 609.0,397.5C605.9,401.2 602.8,404.9 596.0,406.8C589.2,408.7 577.8,408.4 568.5,408.6C559.2,408.8 549.1,408.0 540.0,408.0C530.9,408.0 523.3,410.4 514.0,408.6C504.7,406.9 491.3,401.4 484.0,397.5C476.7,393.6 477.3,389.6 470.0,385.0C462.7,380.4 445.0,384.8 440.0,370.0C435.0,355.2 435.0,308.7 440.0,296.0Z" fill="url(#gRf)" filter="url(#blR_2p5)"/>
<ellipse cx="478.0" cy="328.0" rx="25.0" ry="16.0" fill="#a00000" filter="url(#blR_8)" opacity="0.60"/>
<ellipse cx="545.0" cy="400.0" rx="45.0" ry="8.0" fill="#ff6a00" filter="url(#blR_5)" opacity="0.70"/>
</g>
<line x1="137" y1="204" x2="137" y2="249" stroke="#1010c0" stroke-width="3.5"/>
<line x1="22" y1="402.6" x2="40.4" y2="393.4" stroke="#d01010" stroke-width="3.5"/>
<line x1="199.6" y1="376.5" x2="252" y2="403" stroke="#10e020" stroke-width="3.5"/>
<text x="138.4" y="191.5" font-size="9" font-weight="bold" fill="#111" text-anchor="middle" font-family="'Liberation Sans', Arial, sans-serif" dominant-baseline="central">z</text>
<text x="13.0" y="410.4" font-size="9" font-weight="bold" fill="#111" text-anchor="middle" font-family="'Liberation Sans', Arial, sans-serif" dominant-baseline="central">x</text>
<text x="265.8" y="410.7" font-size="9" font-weight="bold" fill="#111" text-anchor="middle" font-family="'Liberation Sans', Arial, sans-serif" dominant-baseline="central">y</text>
<line x1="571.6" y1="207" x2="571.6" y2="260.5" stroke="#1010c0" stroke-width="3.5"/>
<line x1="457.7" y1="401.9" x2="487.7" y2="387" stroke="#d01010" stroke-width="3.5"/>
<line x1="625.7" y1="372.7" x2="684.6" y2="401.5" stroke="#10e020" stroke-width="3.5"/>
<text x="573.0" y="194.3" font-size="9" font-weight="bold" fill="#111" text-anchor="middle" font-family="'Liberation Sans', Arial, sans-serif" dominant-baseline="central">z</text>
<text x="449.0" y="408.8" font-size="9" font-weight="bold" fill="#111" text-anchor="middle" font-family="'Liberation Sans', Arial, sans-serif" dominant-baseline="central">x</text>
<text x="698.4" y="409.6" font-size="9" font-weight="bold" fill="#111" text-anchor="middle" font-family="'Liberation Sans', Arial, sans-serif" dominant-baseline="central">y</text>
<defs><linearGradient id="jet295" x1="0" y1="1" x2="0" y2="0"><stop offset="0" stop-color="#000080"/><stop offset="0.125" stop-color="#0000ff"/><stop offset="0.375" stop-color="#00ffff"/><stop offset="0.625" stop-color="#ffff00"/><stop offset="0.875" stop-color="#ff0000"/><stop offset="1" stop-color="#800000"/></linearGradient></defs>
<rect x="295.8" y="186.2" width="13.0" height="290.4" fill="url(#jet295)" stroke="#444" stroke-width="0.6"/>
<line x1="295.8" y1="220.6" x2="297.8" y2="220.6" stroke="#333" stroke-width="0.7"/>
<line x1="306.8" y1="220.6" x2="308.8" y2="220.6" stroke="#333" stroke-width="0.7"/>
<text x="310.0" y="220.6" font-size="8.5" font-weight="bold" fill="#111" font-family="'Liberation Sans', Arial, sans-serif" dominant-baseline="central">0</text>
<line x1="295.8" y1="273.7" x2="297.8" y2="273.7" stroke="#333" stroke-width="0.7"/>
<line x1="306.8" y1="273.7" x2="308.8" y2="273.7" stroke="#333" stroke-width="0.7"/>
<text x="310.0" y="273.7" font-size="8.5" font-weight="bold" fill="#111" font-family="'Liberation Sans', Arial, sans-serif" dominant-baseline="central">-5</text>
<line x1="295.8" y1="326.7" x2="297.8" y2="326.7" stroke="#333" stroke-width="0.7"/>
<line x1="306.8" y1="326.7" x2="308.8" y2="326.7" stroke="#333" stroke-width="0.7"/>
<text x="310.0" y="326.7" font-size="8.5" font-weight="bold" fill="#111" font-family="'Liberation Sans', Arial, sans-serif" dominant-baseline="central">-10</text>
<line x1="295.8" y1="380.6" x2="297.8" y2="380.6" stroke="#333" stroke-width="0.7"/>
<line x1="306.8" y1="380.6" x2="308.8" y2="380.6" stroke="#333" stroke-width="0.7"/>
<text x="310.0" y="380.6" font-size="8.5" font-weight="bold" fill="#111" font-family="'Liberation Sans', Arial, sans-serif" dominant-baseline="central">-15</text>
<line x1="295.8" y1="434.5" x2="297.8" y2="434.5" stroke="#333" stroke-width="0.7"/>
<line x1="306.8" y1="434.5" x2="308.8" y2="434.5" stroke="#333" stroke-width="0.7"/>
<text x="310.0" y="434.5" font-size="8.5" font-weight="bold" fill="#111" font-family="'Liberation Sans', Arial, sans-serif" dominant-baseline="central">-20</text>
<text x="301.5" y="484.0" font-size="8.5" font-weight="bold" fill="#111" text-anchor="middle" font-family="'Liberation Sans', Arial, sans-serif" dominant-baseline="central">dB</text>
<defs><linearGradient id="jet725" x1="0" y1="1" x2="0" y2="0"><stop offset="0" stop-color="#000080"/><stop offset="0.125" stop-color="#0000ff"/><stop offset="0.375" stop-color="#00ffff"/><stop offset="0.625" stop-color="#ffff00"/><stop offset="0.875" stop-color="#ff0000"/><stop offset="1" stop-color="#800000"/></linearGradient></defs>
<rect x="725.4" y="186.2" width="13.5" height="290.4" fill="url(#jet725)" stroke="#444" stroke-width="0.6"/>
<line x1="725.4" y1="227.6" x2="727.4" y2="227.6" stroke="#333" stroke-width="0.7"/>
<line x1="736.9" y1="227.6" x2="738.9" y2="227.6" stroke="#333" stroke-width="0.7"/>
<text x="740.1" y="227.6" font-size="8.5" font-weight="bold" fill="#111" font-family="'Liberation Sans', Arial, sans-serif" dominant-baseline="central">0</text>
<line x1="725.4" y1="275.4" x2="727.4" y2="275.4" stroke="#333" stroke-width="0.7"/>
<line x1="736.9" y1="275.4" x2="738.9" y2="275.4" stroke="#333" stroke-width="0.7"/>
<text x="740.1" y="275.4" font-size="8.5" font-weight="bold" fill="#111" font-family="'Liberation Sans', Arial, sans-serif" dominant-baseline="central">-5</text>
<line x1="725.4" y1="322.5" x2="727.4" y2="322.5" stroke="#333" stroke-width="0.7"/>
<line x1="736.9" y1="322.5" x2="738.9" y2="322.5" stroke="#333" stroke-width="0.7"/>
<text x="740.1" y="322.5" font-size="8.5" font-weight="bold" fill="#111" font-family="'Liberation Sans', Arial, sans-serif" dominant-baseline="central">-10</text>
<line x1="725.4" y1="371.0" x2="727.4" y2="371.0" stroke="#333" stroke-width="0.7"/>
<line x1="736.9" y1="371.0" x2="738.9" y2="371.0" stroke="#333" stroke-width="0.7"/>
<text x="740.1" y="371.0" font-size="8.5" font-weight="bold" fill="#111" font-family="'Liberation Sans', Arial, sans-serif" dominant-baseline="central">-15</text>
<line x1="725.4" y1="419.5" x2="727.4" y2="419.5" stroke="#333" stroke-width="0.7"/>
<line x1="736.9" y1="419.5" x2="738.9" y2="419.5" stroke="#333" stroke-width="0.7"/>
<text x="740.1" y="419.5" font-size="8.5" font-weight="bold" fill="#111" font-family="'Liberation Sans', Arial, sans-serif" dominant-baseline="central">-20</text>
<line x1="725.4" y1="466.5" x2="727.4" y2="466.5" stroke="#333" stroke-width="0.7"/>
<line x1="736.9" y1="466.5" x2="738.9" y2="466.5" stroke="#333" stroke-width="0.7"/>
<text x="740.1" y="466.5" font-size="8.5" font-weight="bold" fill="#111" font-family="'Liberation Sans', Arial, sans-serif" dominant-baseline="central">-25</text>
<text x="731.0" y="485.3" font-size="8.5" font-weight="bold" fill="#111" text-anchor="middle" font-family="'Liberation Sans', Arial, sans-serif" dominant-baseline="central">dB</text>
</svg></body></html>
